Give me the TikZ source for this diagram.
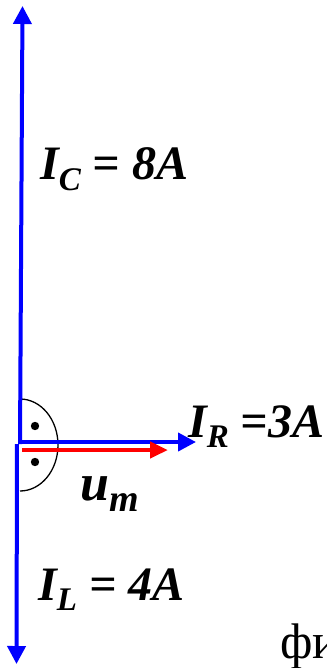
\documentclass[tikz,border=0pt]{standalone}
\usepackage{fontspec}
\setmainfont{Liberation Serif}
\usetikzlibrary{arrows.meta}
\definecolor{vblue}{RGB}{0,0,255}
\definecolor{vred}{RGB}{255,0,0}
\newcommand{\mysub}[1]{\raisebox{-0.22em}{\fontsize{33}{33}\selectfont #1}}
\begin{document}
\begin{tikzpicture}[x=1pt,y=-1pt,
  vec/.style={line width=4pt,-{Triangle[length=18pt,width=18pt]}},
  lbl/.style={anchor=base west,inner sep=0pt,font=\fontsize{48}{48}\selectfont\bfseries\itshape}]
\useasboundingbox (0,0) rectangle (326,668);
\coordinate (oU) at (20,444);
\coordinate (oL) at (17,444);
\coordinate (oR) at (20,442);
\coordinate (oM) at (22,450);
\coordinate (tipC) at (22.5,6);
\coordinate (tipL) at (16.5,664);
\coordinate (tipR) at (196,442);
\coordinate (tipM) at (168,450);
% right-angle arc and dots
\draw[line width=1.3pt] (20,445) ++(0,-46) arc[start angle=-90,end angle=90,x radius=38,y radius=46];
\fill (35,426) circle[radius=4.2pt];
\fill (35,462) circle[radius=4.2pt];
% vectors
\draw[vec,vblue] (oU) -- (tipC);
\draw[vec,vblue] (oL) -- (tipL);
\draw[vec,vblue] (oR) -- (tipR);
\draw[vec,vred,line width=4.5pt,-{Triangle[length=18pt,width=16pt]}] (oM) -- (tipM);
% labels
\node[lbl] (lC) at (40,180) {I\mysub{C} = 8A};
\node[lbl] (lR) at (188,437) {I\mysub{R} =3A};
\node[lbl,font=\fontsize{52}{52}\selectfont\bfseries\itshape] (lM) at (80,500) {u\raisebox{-0.22em}{\fontsize{38}{38}\selectfont m}};
\node[lbl] (lL) at (38,600) {I\mysub{L} = 4A};
\begin{scope}
\clip (0,0) rectangle (326,668);
\node[anchor=base west,inner sep=0pt,font=\fontsize{50}{50}\selectfont] (lF) at (280,658) {фи};
\end{scope}
\end{tikzpicture}
\end{document}
